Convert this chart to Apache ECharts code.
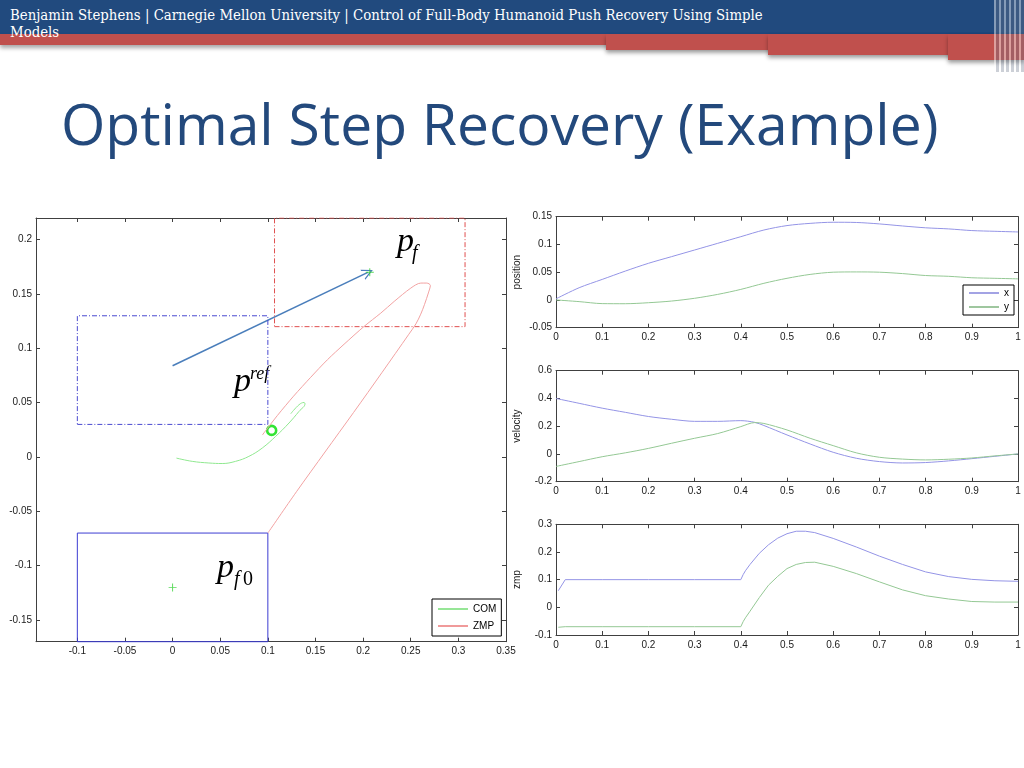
<!DOCTYPE html>
<html>
<head>
<meta charset="utf-8">
<title>Optimal Step Recovery (Example)</title>
<script src="https://cdn.jsdelivr.net/npm/echarts@6/dist/echarts.min.js"></script>
<style>
  html, body { margin: 0; padding: 0; background: #fff; }
  body { width: 1024px; height: 768px; position: relative; overflow: hidden; }
  #bar { position: absolute; left: 0; top: 0; width: 1024px; height: 34px; background: #214a7e; }
  .red { position: absolute; background: #c0504d; box-shadow: 0 3px 4px rgba(0,0,0,0.35); }
  #stripes { position: absolute; left: 994px; top: 0; width: 30px; height: 72px;
    background: repeating-linear-gradient(90deg, rgba(255,255,255,0.45) 0 2px, rgba(110,120,140,0.35) 2px 5px); }
  #head { position: absolute; left: 10px; top: 6px; color: #fff; white-space: nowrap;
    font-family: "DejaVu Serif Condensed", "DejaVu Serif", serif; font-size: 14.8px; line-height: 17px; }
  #title { position: absolute; left: 61px; top: 95px; color: #23497c; white-space: nowrap;
    font-family: "Open Sans", sans-serif; font-size: 57px; line-height: 57px; }
  #chart { position: absolute; left: 0; top: 190px; width: 1024px; height: 480px; }
</style>
</head>
<body>
<div id="bar"></div>
<div class="red" style="left:0;top:34px;width:1024px;height:11px"></div>
<div class="red" style="left:606px;top:34px;width:418px;height:16px"></div>
<div class="red" style="left:768px;top:34px;width:256px;height:21px"></div>
<div class="red" style="left:948px;top:34px;width:76px;height:26px"></div>
<div id="stripes"></div>
<div id="head">Benjamin Stephens | Carnegie Mellon University | Control of Full-Body Humanoid Push Recovery Using Simple<br>Models</div>
<div id="title">Optimal Step Recovery (Example)</div>
<div id="chart"></div>
<script>
// left plot: COM and ZMP paths in the ground plane
var comPathX = [0.004, 0.0206, 0.038, 0.0521, 0.0661, 0.0801, 0.0942, 0.1082, 0.1222, 0.1327, 0.139, 0.138, 0.1327, 0.124];
var comPathY = [-0.001, -0.004, -0.0055, -0.006, -0.004, 0.0006, 0.0083, 0.019, 0.0313, 0.042, 0.049, 0.0502, 0.0481, 0.0398];
var zmpPathX = [0.1, 0.13, 0.16, 0.19, 0.22, 0.248, 0.2554, 0.2605, 0.2645, 0.2685, 0.2706, 0.2669, 0.2606, 0.2501, 0.2326, 0.2186, 0.201, 0.18, 0.1625, 0.145, 0.127, 0.11, 0.0942];
var zmpPathY = [-0.07, -0.032, 0.0046, 0.041, 0.078, 0.113, 0.1225, 0.1315, 0.1405, 0.151, 0.158, 0.1601, 0.1601, 0.1555, 0.1432, 0.1325, 0.1202, 0.1038, 0.0895, 0.0734, 0.056, 0.0382, 0.0202];
// footholds: initial foot, reference step, final step (centres), foot size
var footCenters = [[0, -0.12], [0, 0.08], [0.207, 0.17]];
var footSize = [0.2, 0.1];
var stepMarks = [[0.207, 0.17], [0, -0.12]];
var capturePoint = [0.104, 0.0245];
var arrowFrom = [0, 0.084];
var arrowTo = [0.205, 0.17];
var leftXTicks = [-0.1, -0.05, 0, 0.05, 0.1, 0.15, 0.2, 0.25, 0.3, 0.35];
var leftYTicks = [-0.15, -0.1, -0.05, 0, 0.05, 0.1, 0.15, 0.2];

// right plots: time series
var tPos = [0, 0.05, 0.1, 0.15, 0.2, 0.25, 0.3, 0.35, 0.4, 0.45, 0.5, 0.55, 0.6, 0.65, 0.7, 0.75, 0.8, 0.85, 0.9, 0.95, 1];
var posX = [0.002, 0.022, 0.037, 0.052, 0.066, 0.078, 0.09, 0.102, 0.114, 0.126, 0.134, 0.138, 0.140, 0.1396, 0.137, 0.1333, 0.130, 0.128, 0.125, 0.1237, 0.1225];
var posY = [0, -0.003, -0.0066, -0.0068, -0.005, -0.002, 0.003, 0.010, 0.019, 0.030, 0.039, 0.046, 0.050, 0.0505, 0.050, 0.0475, 0.044, 0.0426, 0.040, 0.039, 0.038];
var tVel = [0, 0.05, 0.1, 0.15, 0.2, 0.25, 0.3, 0.35, 0.4, 0.43, 0.45, 0.5, 0.55, 0.6, 0.65, 0.7, 0.75, 0.8, 0.85, 0.9, 0.95, 1];
var velX = [0.40, 0.365, 0.33, 0.30, 0.27, 0.25, 0.235, 0.235, 0.24, 0.228, 0.205, 0.137, 0.072, 0.012, -0.031, -0.055, -0.065, -0.062, -0.05, -0.034, -0.017, 0];
var velY = [-0.09, -0.055, -0.02, 0.008, 0.04, 0.077, 0.113, 0.147, 0.197, 0.226, 0.22, 0.173, 0.113, 0.06, 0.008, -0.024, -0.037, -0.043, -0.038, -0.029, -0.014, 0];
var tZmp = [0.005, 0.02, 0.1, 0.2, 0.3, 0.4, 0.405, 0.41, 0.42, 0.44, 0.46, 0.48, 0.5, 0.52, 0.54, 0.56, 0.6, 0.65, 0.7, 0.75, 0.8, 0.85, 0.9, 0.95, 1];
var zmpX = [0.06, 0.1, 0.1, 0.1, 0.1, 0.1, 0.118, 0.132, 0.155, 0.195, 0.226, 0.25, 0.266, 0.275, 0.275, 0.27, 0.249, 0.218, 0.185, 0.155, 0.128, 0.111, 0.101, 0.096, 0.094];
var zmpY = [-0.072, -0.07, -0.07, -0.07, -0.07, -0.07, -0.052, -0.038, -0.014, 0.035, 0.08, 0.112, 0.14, 0.155, 0.162, 0.163, 0.148, 0.122, 0.092, 0.063, 0.042, 0.03, 0.021, 0.019, 0.019];

function pairs(xs, ys) {
  return xs.map(function (x, i) { return [x, ys[i]]; });
}
function rect(c) {
  var hw = footSize[0] / 2, hh = footSize[1] / 2;
  return [[c[0] - hw, c[1] - hh], [c[0] + hw, c[1] - hh], [c[0] + hw, c[1] + hh],
          [c[0] - hw, c[1] + hh], [c[0] - hw, c[1] - hh]];
}

var axisColor = '#404040';
var labelFont = { fontFamily: 'Liberation Sans', fontSize: 10, color: '#1a1a1a' };

function xAxisOf(gi, min, max, ticks, interval, bottom) {
  var ax = {
    type: 'value', gridIndex: gi, min: min, max: max,
    position: bottom ? 'bottom' : 'top',
    splitLine: { show: false },
    axisLine: { show: true, onZero: false, lineStyle: { color: axisColor, width: 1 } },
    axisTick: { show: true, inside: true, length: 4, lineStyle: { color: axisColor } },
    axisLabel: Object.assign({ show: bottom, margin: 5 }, labelFont)
  };
  if (ticks) { ax.axisTick.customValues = ticks; ax.axisLabel.customValues = ticks; }
  else ax.interval = interval;
  return ax;
}
function yAxisOf(gi, min, max, ticks, interval, left, name) {
  var ax = {
    type: 'value', gridIndex: gi, min: min, max: max,
    position: left ? 'left' : 'right',
    splitLine: { show: false },
    axisLine: { show: true, onZero: false, lineStyle: { color: axisColor, width: 1 } },
    axisTick: { show: true, inside: true, length: 4, lineStyle: { color: axisColor } },
    axisLabel: Object.assign({ show: left, margin: 4 }, labelFont)
  };
  if (name) {
    ax.name = name;
    ax.nameLocation = 'middle';
    ax.nameGap = 34;
    ax.nameTextStyle = { fontFamily: 'Liberation Sans', fontSize: 10, color: '#1a1a1a' };
  }
  if (ticks) { ax.axisTick.customValues = ticks; ax.axisLabel.customValues = ticks; }
  else ax.interval = interval;
  return ax;
}

function timeSeries(gi, name, ts, vs, color, smooth) {
  return {
    type: 'line', name: name, xAxisIndex: gi * 2, yAxisIndex: gi * 2,
    data: pairs(ts, vs), symbol: 'none', smooth: smooth,
    lineStyle: { color: color, width: 1 }, itemStyle: { color: color }
  };
}

var blueX = '#9494e6', greenY = '#94c894';
var plusPath = 'path://M4.4,0 L5.6,0 L5.6,4.4 L10,4.4 L10,5.6 L5.6,5.6 L5.6,10 L4.4,10 L4.4,5.6 L0,5.6 L0,4.4 L4.4,4.4 Z';
var lineIcon = 'path://M0,0 L30,0 L30,1 L0,1 Z';

var chart = echarts.init(document.getElementById('chart'));
var option = {
  animation: false,
  grid: [
    { left: 36, top: 28, width: 470, height: 423.7 },
    { left: 556, top: 26.7, width: 462, height: 111 },
    { left: 556, top: 180.7, width: 462, height: 111 },
    { left: 556, top: 334.3, width: 462, height: 110.7 }
  ],
  xAxis: [
    xAxisOf(0, -0.1434, 0.35, leftXTicks, null, true), xAxisOf(0, -0.1434, 0.35, leftXTicks, null, false),
    xAxisOf(1, 0, 1, null, 0.1, true), xAxisOf(1, 0, 1, null, 0.1, false),
    xAxisOf(2, 0, 1, null, 0.1, true), xAxisOf(2, 0, 1, null, 0.1, false),
    xAxisOf(3, 0, 1, null, 0.1, true), xAxisOf(3, 0, 1, null, 0.1, false)
  ],
  yAxis: [
    yAxisOf(0, -0.17, 0.22, leftYTicks, null, true), yAxisOf(0, -0.17, 0.22, leftYTicks, null, false),
    yAxisOf(1, -0.05, 0.15, null, 0.05, true, 'position'), yAxisOf(1, -0.05, 0.15, null, 0.05, false),
    yAxisOf(2, -0.2, 0.6, null, 0.2, true, 'velocity'), yAxisOf(2, -0.2, 0.6, null, 0.2, false),
    yAxisOf(3, -0.1, 0.3, null, 0.1, true, 'zmp'), yAxisOf(3, -0.1, 0.3, null, 0.1, false)
  ],
  legend: [
    {
      orient: 'vertical', left: 432, top: 409, selectedMode: false,
      itemWidth: 30, itemHeight: 10, itemGap: 7, padding: [5, 5, 5, 6],
      borderColor: '#000', borderWidth: 1, backgroundColor: '#fff',
      textStyle: { fontFamily: 'Liberation Sans', fontSize: 10, color: '#000' },
      data: [
        { name: 'COM', icon: lineIcon, itemStyle: { color: '#2fcc2f' } },
        { name: 'ZMP', icon: lineIcon, itemStyle: { color: '#e03434' } }
      ]
    },
    {
      orient: 'vertical', left: 963, top: 95, selectedMode: false,
      itemWidth: 30, itemHeight: 9, itemGap: 4, padding: [3, 5, 3, 6],
      borderColor: '#000', borderWidth: 1, backgroundColor: '#fff',
      textStyle: { fontFamily: 'Liberation Sans', fontSize: 10, color: '#000' },
      data: [
        { name: 'x', icon: lineIcon, itemStyle: { color: '#4646c8' } },
        { name: 'y', icon: lineIcon, itemStyle: { color: '#3f8f3f' } }
      ]
    }
  ],
  graphic: [
    { type: 'text', style: { text: 'p', x: 397, y: 51.6, font: 'italic 34px "Liberation Serif"', fill: '#000', verticalAlign: 'middle' } },
    { type: 'text', style: { text: 'f', x: 412, y: 63.9, font: 'italic 20px "Liberation Serif"', fill: '#000', verticalAlign: 'middle' } },
    { type: 'text', style: { text: 'p', x: 234, y: 192.2, font: 'italic 34px "Liberation Serif"', fill: '#000', verticalAlign: 'middle' } },
    { type: 'text', style: { text: 'ref', x: 250, y: 184.5, font: 'italic 18px "Liberation Serif"', fill: '#000', verticalAlign: 'middle' } },
    { type: 'text', style: { text: 'p', x: 217, y: 378.2, font: 'italic 34px "Liberation Serif"', fill: '#000', verticalAlign: 'middle' } },
    { type: 'text', style: { text: 'f', x: 234, y: 389.5, font: 'italic 20px "Liberation Serif"', fill: '#000', verticalAlign: 'middle' } },
    { type: 'text', style: { text: '0', x: 243, y: 389.5, font: '20px "Liberation Serif"', fill: '#000', verticalAlign: 'middle' } }
  ],
  series: [
    { type: 'line', name: 'foot0', xAxisIndex: 0, yAxisIndex: 0, data: rect(footCenters[0]), symbol: 'none',
      clip: false, lineStyle: { color: '#3c3cd2', width: 1 } },
    { type: 'line', name: 'footRef', xAxisIndex: 0, yAxisIndex: 0, data: rect(footCenters[1]), symbol: 'none',
      lineStyle: { color: '#4a4ad0', width: 1, type: [5, 2, 1, 2] } },
    { type: 'line', name: 'footF', xAxisIndex: 0, yAxisIndex: 0, data: rect(footCenters[2]), symbol: 'none',
      lineStyle: { color: '#e05050', width: 1, type: [5, 2, 1, 2] } },
    { type: 'line', name: 'COM', xAxisIndex: 0, yAxisIndex: 0, data: pairs(comPathX, comPathY), symbol: 'none',
      smooth: 0.4, lineStyle: { color: '#90e890', width: 1 }, itemStyle: { color: '#90e890' } },
    { type: 'line', name: 'ZMP', xAxisIndex: 0, yAxisIndex: 0, data: pairs(zmpPathX, zmpPathY), symbol: 'none',
      smooth: 0.3, lineStyle: { color: '#f2a2a2', width: 1 }, itemStyle: { color: '#f2a2a2' } },
    { type: 'lines', name: 'step', coordinateSystem: 'cartesian2d', xAxisIndex: 0, yAxisIndex: 0,
      symbol: ['none', 'path://M5,0 L10,10 L8.8,10 L5,2.4 L1.2,10 L0,10 Z'], symbolSize: 11,
      lineStyle: { color: '#4a7ebb', width: 1.5, opacity: 1 },
      data: [{ coords: [arrowFrom, arrowTo] }] },
    { type: 'scatter', name: 'marks', xAxisIndex: 0, yAxisIndex: 0, data: stepMarks,
      symbol: plusPath, symbolSize: 8, itemStyle: { color: '#30d030' } },
    { type: 'scatter', name: 'capture', xAxisIndex: 0, yAxisIndex: 0, data: [capturePoint],
      symbol: 'circle', symbolSize: 9, itemStyle: { color: '#fff', borderColor: '#00dd00', borderWidth: 2.6 } },

    timeSeries(1, 'x', tPos, posX, blueX, 0.3),
    timeSeries(1, 'y', tPos, posY, greenY, 0.3),
    timeSeries(2, 'x', tVel, velX, blueX, 0.3),
    timeSeries(2, 'y', tVel, velY, greenY, 0.3),
    timeSeries(3, 'x', tZmp, zmpX, blueX, false),
    timeSeries(3, 'y', tZmp, zmpY, greenY, false)
  ]
};
chart.setOption(option);
</script>
</body>
</html>
